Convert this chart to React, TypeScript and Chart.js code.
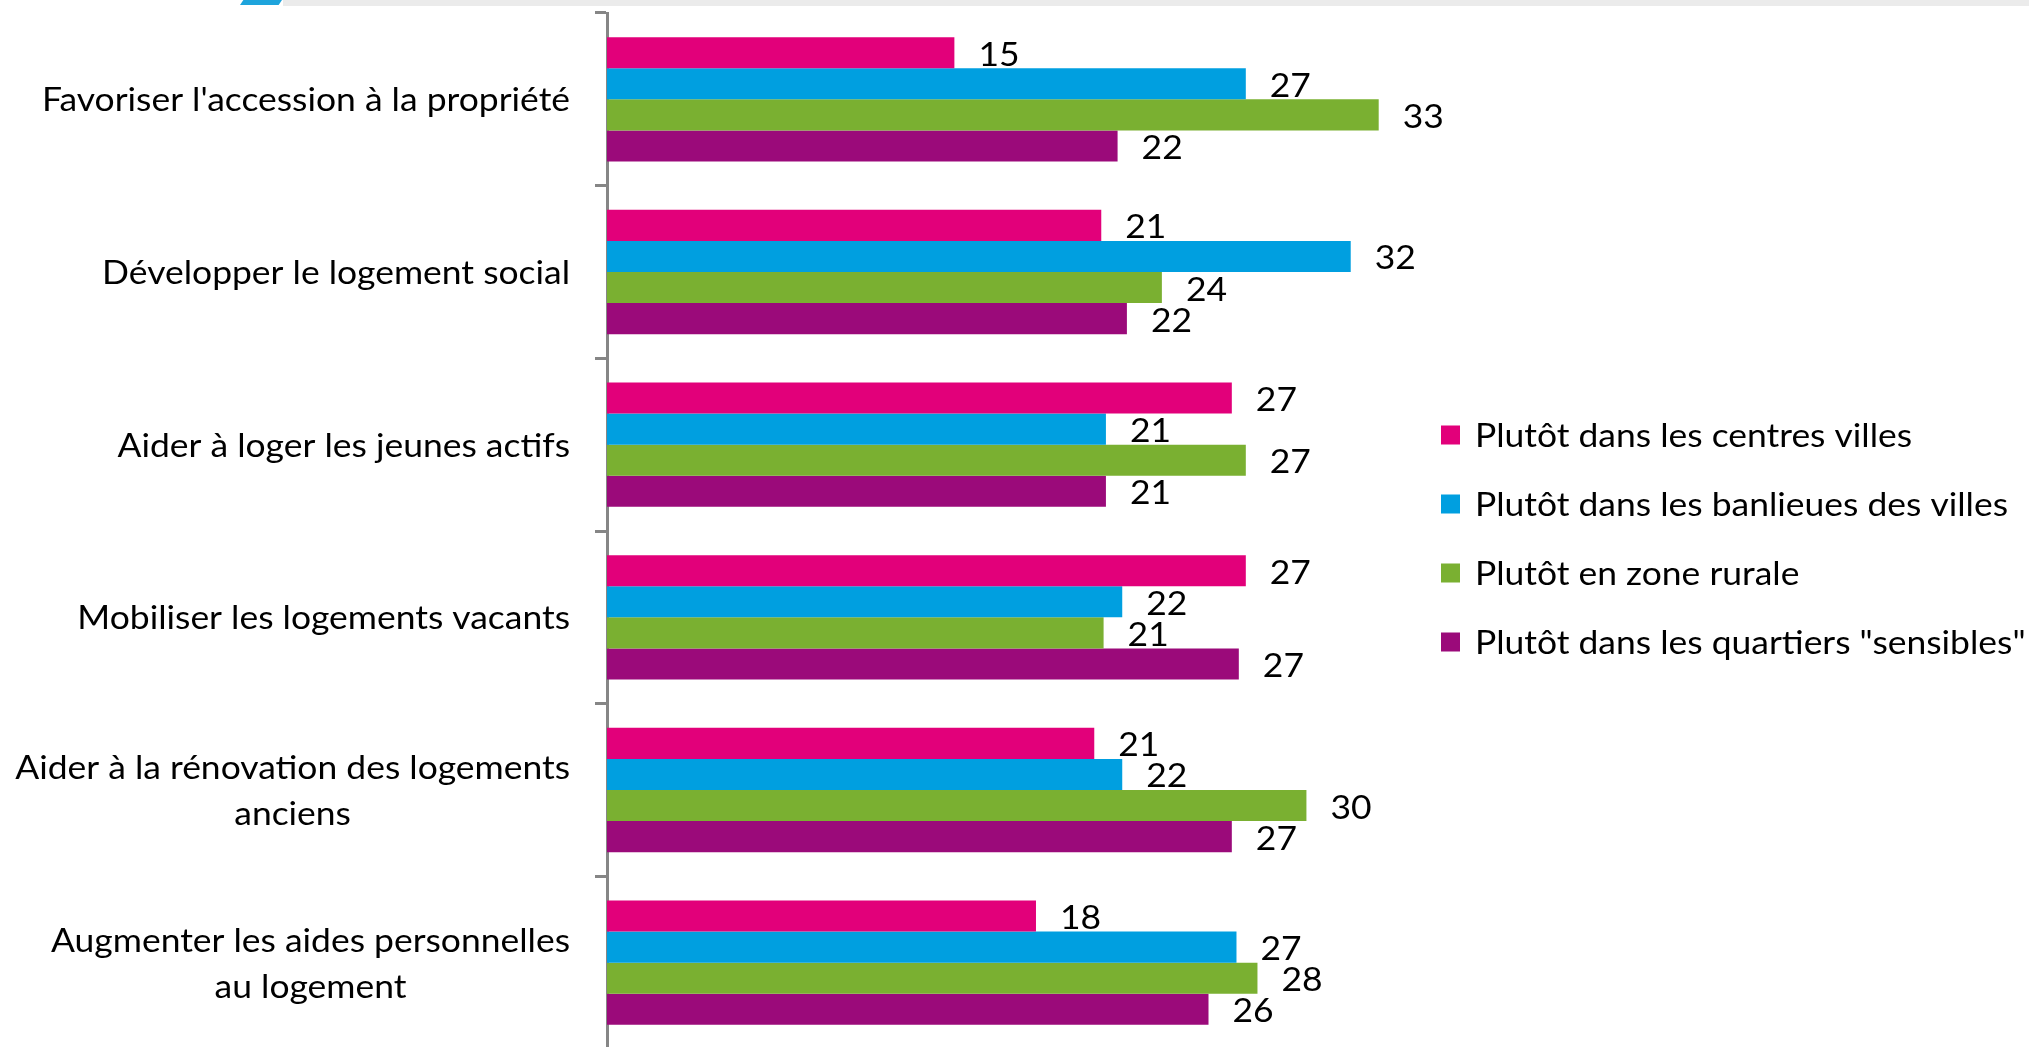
import React, { useEffect, useRef } from "react";
import { Chart, registerables } from "chart.js";

Chart.register(...registerables);

// ---- Data (bar lengths; labels show rounded values) ----
const categories: string[][] = [
  ["Favoriser l'accession à la propriété"],
  ["Développer le logement social"],
  ["Aider à loger les jeunes actifs"],
  ["Mobiliser les logements vacants"],
  ["Aider à la rénovation des logements", "anciens"],
  ["Augmenter les aides personnelles", "au logement"],
];
const seriesNames = [
  "Plutôt dans les centres villes",
  "Plutôt dans les banlieues des villes",
  "Plutôt en zone rurale",
  'Plutôt dans les quartiers "sensibles"',
];
const centresVilles = [14.9, 21.2, 26.8, 27.4, 20.9, 18.4];
const banlieues = [27.4, 31.9, 21.4, 22.1, 22.1, 27.0];
const zoneRurale = [33.1, 23.8, 27.4, 21.3, 30.0, 27.9];
const quartiersSensibles = [21.9, 22.3, 21.4, 27.1, 26.8, 25.8];
const seriesColors = ["#E2007A", "#009FE0", "#7AB031", "#9B0A7A"];
const xMax = 35;

// ---- Style constants ----
const W = 2029;
const H = 1047;
const CANVAS_H = 1060;
const FONT_FAMILY = "Lato, 'Open Sans', sans-serif";
const FONT_SIZE = 33.5;
const REF_TEXT = "Favoriser l'accession à la propriété";
const REF_WIDTH = 528;

function makeTextPlugin() {
  return {
    id: "customText",
    afterDraw(chart: any) {
      const ctx: CanvasRenderingContext2D = chart.ctx;
      ctx.save();
      ctx.font = `${FONT_SIZE}px ${FONT_FAMILY}`;
      ctx.fillStyle = "#000000";
      ctx.textBaseline = "alphabetic";
      const sx = REF_WIDTH / ctx.measureText(REF_TEXT).width;

      const draw = (text: string, x: number, y: number, align: "left" | "right" | "center") => {
        const w = ctx.measureText(text).width * sx;
        const left = align === "left" ? x : align === "right" ? x - w : x - w / 2;
        ctx.save();
        ctx.translate(left, y);
        ctx.scale(sx, 1);
        ctx.textAlign = "left";
        ctx.fillText(text, 0, 0);
        ctx.restore();
      };

      // Category labels
      const yScale = chart.scales.y;
      const labels = chart.data.labels as string[][];
      const LH = 46;
      const rightEdge = 570;
      labels.forEach((lines, i) => {
        const yc = yScale.getPixelForValue(i);
        const widths = lines.map((l) => ctx.measureText(l).width * sx);
        const maxW = Math.max(...widths);
        const cx = rightEdge - maxW / 2;
        const n = lines.length;
        lines.forEach((line, j) => {
          const y = yc + (j - (n - 1) / 2) * LH + 12;
          draw(line, cx, y, "center");
        });
      });

      // Data labels
      chart.data.datasets.forEach((ds: any, di: number) => {
        const meta = chart.getDatasetMeta(di);
        meta.data.forEach((bar: any, i: number) => {
          draw(String(Math.round(ds.data[i])), bar.x + 24, bar.y + 13, "left");
        });
      });

      // Legend
      const legendTop = 435;
      const legendStep = 69;
      chart.data.datasets.forEach((ds: any, di: number) => {
        const yc = legendTop + di * legendStep;
        ctx.fillStyle = ds.backgroundColor;
        ctx.fillRect(1441, yc - 9.5, 19, 19);
        ctx.fillStyle = "#000000";
        draw(ds.label, 1475, yc + 12, "left");
      });
      ctx.restore();
    },
  };
}

export default function App() {
  const canvasRef = useRef<HTMLCanvasElement | null>(null);

  useEffect(() => {
    document.body.style.margin = "0";
    const canvas = canvasRef.current;
    if (!canvas) return;
    const seriesData = [centresVilles, banlieues, zoneRurale, quartiersSensibles];
    const chart = new Chart(canvas, {
      type: "bar",
      data: {
        labels: categories,
        datasets: seriesData.map((d, i) => ({
          label: seriesNames[i],
          data: d,
          backgroundColor: seriesColors[i],
          borderWidth: 0,
          categoryPercentage: 0.72,
          barPercentage: 1,
        })),
      },
      options: {
        indexAxis: "y",
        animation: false,
        responsive: false,
        devicePixelRatio: 1,
        layout: { padding: { top: 13, bottom: CANVAS_H - 1049, left: 0, right: W - 1423 } },
        plugins: {
          legend: { display: false },
          tooltip: { enabled: false },
        },
        scales: {
          x: { display: false, min: 0, max: xMax },
          y: {
            display: true,
            offset: true,
            afterFit: (scale: any) => {
              scale.width = 607;
            },
            ticks: { display: false },
            grid: {
              display: true,
              offset: true,
              drawOnChartArea: false,
              drawTicks: true,
              tickLength: 12,
              tickColor: "#868686",
              tickWidth: 3,
              color: "#868686",
              lineWidth: 3,
            },
            border: { display: true, color: "#868686", width: 3 },
          },
        },
      } as any,
      plugins: [makeTextPlugin()],
    });
    return () => chart.destroy();
  }, []);

  return (
    <div
      style={{
        position: "absolute",
        left: 0,
        top: 0,
        width: W,
        height: H,
        overflow: "hidden",
        background: "#ffffff",
      }}
    >
      <div style={{ position: "absolute", left: 283, top: 0, right: 0, height: 6, background: "#ebebeb" }} />
      <div
        style={{
          position: "absolute",
          left: 240,
          top: 0,
          width: 42,
          height: 5,
          background: "#1ea4dc",
          clipPath: "polygon(0 100%, 8% 0, 100% 0, 92% 100%)",
        }}
      />
      <canvas ref={canvasRef} width={W} height={CANVAS_H} style={{ position: "absolute", left: 0, top: 0 }} />
    </div>
  );
}
